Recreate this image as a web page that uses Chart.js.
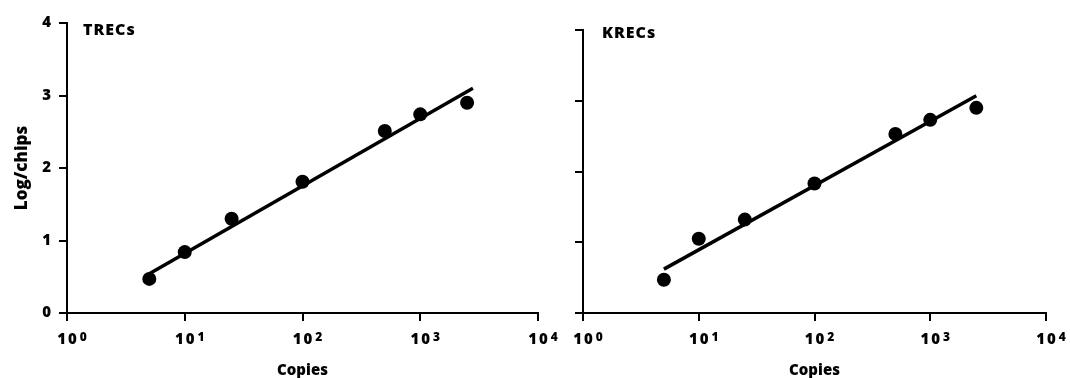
<!DOCTYPE html>
<html>
<head>
<meta charset="utf-8">
<script src="https://cdn.jsdelivr.net/npm/chart.js@4.4.0/dist/chart.umd.min.js"></script>
<style>
  html, body { margin: 0; padding: 0; background: #fff; overflow: hidden; }
  #wrap { position: relative; width: 1070px; height: 378px; }
  #trecChart { position: absolute; left: 0; top: 0; }
  #krecChart { position: absolute; left: 540px; top: 0; }
</style>
</head>
<body>
<div id="wrap">
  <canvas id="trecChart" width="580" height="378"></canvas>
  <canvas id="krecChart" width="530" height="378"></canvas>
</div>
<script>
// Standard curve data
const copies = [5, 10, 25, 100, 500, 1000, 2500];
const trecValues = [0.47, 0.84, 1.30, 1.81, 2.51, 2.74, 2.90];
const krecValues = [0.47, 1.05, 1.32, 1.83, 2.53, 2.73, 2.90];

// Regression line end points
const trecFitX = [5, 2800];
const trecFitY = [0.54, 3.10];
const krecFitX = [5, 2500];
const krecFitY = [0.62, 3.07];

// Axis ticks (x labels are 10 raised to the power)
const xTicks = [1, 10, 100, 1000, 10000];
const xTickBase = '10';
const xTickPowers = ['0', '1', '2', '3', '4'];
const yTicks = [0, 1, 2, 3, 4];

const black = '#000';
const fontFamily = '"Open Sans", Lato, sans-serif';
const weight = '800';

// panel label drawn inside the plot area (TRECs / KRECs)
const panelTitle = {
  id: 'panelTitle',
  afterDraw(chart, args, opts) {
    const { ctx, chartArea } = chart;
    ctx.save();
    ctx.font = weight + ' 16px ' + fontFamily;
    ctx.letterSpacing = '1px';
    ctx.fillStyle = black;
    ctx.textBaseline = 'alphabetic';
    ctx.fillText(opts.text, chartArea.left + opts.dx, chartArea.top + opts.dy);
    ctx.restore();
  }
};

// x tick labels with a superscript power, placed by the x scale
const powerTicks = {
  id: 'powerTicks',
  afterDraw(chart) {
    const scale = chart.scales.x;
    const ctx = chart.ctx;
    ctx.save();
    ctx.fillStyle = black;
    ctx.textBaseline = 'alphabetic';
    ctx.textAlign = 'left';
    scale.ticks.forEach(t => {
      const i = xTicks.indexOf(t.value);
      const px = scale.getPixelForValue(t.value);
      ctx.font = weight + ' 15px ' + fontFamily;
      ctx.letterSpacing = '2px';
      const w = ctx.measureText(xTickBase).width - 2;
      ctx.fillText(xTickBase, px - w / 2, scale.top + 31);
      ctx.font = weight + ' 12px ' + fontFamily;
      ctx.letterSpacing = '0px';
      ctx.fillText(xTickPowers[i], px + w / 2 + 3, scale.top + 28);
    });
    ctx.restore();
  }
};

function toPoints(xs, ys) {
  return xs.map((x, i) => ({ x: x, y: ys[i] }));
}

function makeChart(id, o) {
  const ctx = document.getElementById(id);
  new Chart(ctx, {
    type: 'scatter',
    data: {
      datasets: [{
        data: toPoints(copies, o.values),
        pointRadius: 7,
        pointHoverRadius: 7,
        pointBackgroundColor: black,
        pointBorderWidth: 0,
        showLine: false
      }, {
        data: toPoints(o.fitX, o.fitY),
        showLine: true,
        pointRadius: 0,
        borderColor: black,
        borderWidth: 3.5,
        borderCapStyle: 'butt'
      }]
    },
    options: {
      responsive: false,
      animation: false,
      layout: { padding: o.padding },
      plugins: {
        legend: { display: false },
        tooltip: { enabled: false },
        panelTitle: o.title
      },
      scales: {
        x: {
          type: 'logarithmic',
          min: 1,
          max: 10000,
          afterBuildTicks: s => { s.ticks = xTicks.map(v => ({ value: v })); },
          afterFit: s => { s.height = 65; },
          ticks: {
            color: black,
            autoSkip: false,
            maxRotation: 0,
            padding: 9,
            font: { family: fontFamily, size: 15, weight: weight },
            callback: () => ''
          },
          grid: { drawOnChartArea: false, drawTicks: true, tickLength: 8, color: black, lineWidth: 2 },
          border: { color: black, width: 2 },
          title: {
            display: true,
            text: 'Copies',
            color: black,
            padding: { top: 0, bottom: -2 },
            font: { family: fontFamily, size: 15, weight: weight }
          }
        },
        y: {
          min: 0,
          max: 4,
          afterBuildTicks: s => { s.ticks = yTicks.map(v => ({ value: v })); },
          afterFit: s => { s.width = o.yWidth; },
          ticks: {
            color: black,
            padding: 8,
            font: { family: fontFamily, size: 15, weight: weight },
            callback: v => (o.yLabels ? String(v) : '')
          },
          grid: { drawOnChartArea: false, drawTicks: true, tickLength: 8, color: black, lineWidth: 2 },
          border: { color: black, width: 2 },
          title: {
            display: o.yLabels,
            text: 'Log/chips',
            color: black,
            padding: { top: 12, bottom: 0 },
            font: { family: fontFamily, size: 17, weight: weight }
          }
        }
      }
    },
    plugins: [panelTitle, powerTicks]
  });
}

makeChart('trecChart', {
  values: trecValues,
  fitX: trecFitX,
  fitY: trecFitY,
  yLabels: true,
  yWidth: 67,
  padding: { left: 0, top: 23, right: 42, bottom: 0 },
  title: { text: 'TRECs', dx: 16, dy: 12 }
});

makeChart('krecChart', {
  values: krecValues,
  fitX: krecFitX,
  fitY: krecFitY,
  yLabels: false,
  yWidth: 43,
  padding: { left: 0, top: 30, right: 24, bottom: 0 },
  title: { text: 'KRECs', dx: 19, dy: 8 }
});
</script>
</body>
</html>
